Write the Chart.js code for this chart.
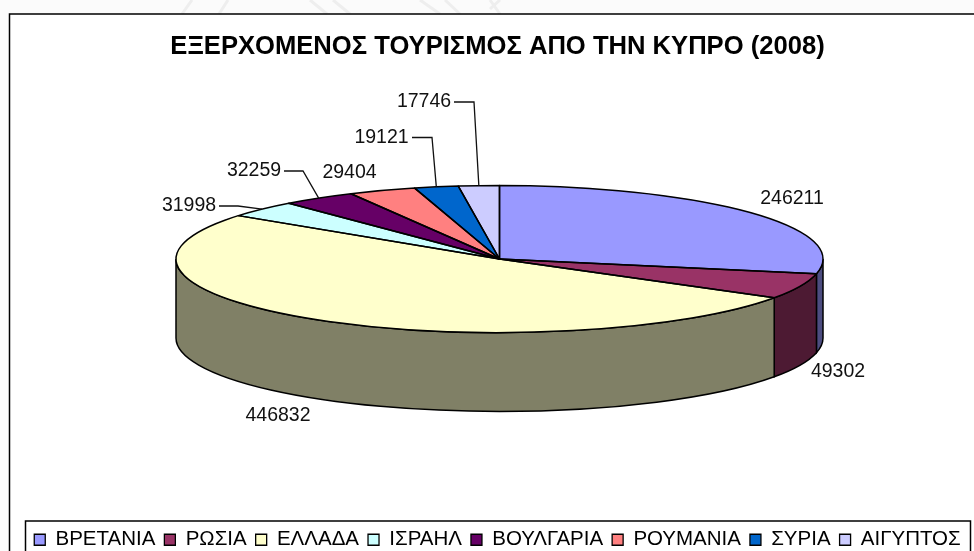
<!DOCTYPE html>
<html><head><meta charset="utf-8">
<style>html,body{margin:0;padding:0;background:#fbfbfb}canvas{display:block}</style>
<script src="https://cdn.jsdelivr.net/npm/chart.js@4"></script>
</head><body><div style="width:974px;height:551px;position:relative"><canvas id="c"></canvas></div>
<script>
const categories = ["ΒΡΕΤΑΝΙΑ","ΡΩΣΙΑ","ΕΛΛΑΔΑ","ΙΣΡΑΗΛ","ΒΟΥΛΓΑΡΙΑ","ΡΟΥΜΑΝΙΑ","ΣΥΡΙΑ","ΑΙΓΥΠΤΟΣ"];
const tourists = [246211,49302,446832,31998,32259,29404,19121,17746];
const topColors = ["#9999FF","#993366","#FFFFCC","#CCFFFF","#660066","#FF8080","#0066CC","#CCCCFF"];
const sideColors = ["#4D4D80","#4D1A33","#808066","#668080","#330033","#804040","#003366","#666680"];
const chartTitle = "ΕΞΕΡΧΟΜΕΝΟΣ ΤΟΥΡΙΣΜΟΣ ΑΠΟ ΤΗΝ ΚΥΠΡΟ (2008)";
// label anchors (centre x, middle y) and leader elbows
const labelAt = [[792,199],[838,372],[278,416],[189,206],[254,171],[349.5,173],[381.5,137.5],[424,102]];
const leaderElbow = [null,null,null,[[219,206],[238,206]],[[284,171],[303,171]],null,[[412,137.5],[432,137.5]],[[454,102],[474,102]]];
// faint background watermark strokes above the frame
const watermark = [[192,0,182,14],[228,0,219,14],[310,0,327,14],[333,0,350,14],[420,0,440,14],[445,0,460,14],[500,0,490,9],[490,0,500,14]];

const disc = {cx:499.5, cy:259, rx:323.5, ry:73.5, depth:79};
const INK = "#000";

function setDiscTransform(ctx, el){
  const p = el.getProps(['x','y','outerRadius'], true);
  ctx.translate(disc.cx, disc.cy);
  ctx.scale(disc.rx/p.outerRadius, disc.ry/p.outerRadius);
  ctx.translate(-p.x, -p.y);
}
const pie3d = {
  id:'pie3d',
  beforeDraw(chart){
    const {ctx,width,height} = chart;
    ctx.save();
    ctx.strokeStyle = "#eeeeee"; ctx.lineWidth = 3;
    watermark.forEach(w=>{ctx.beginPath();ctx.moveTo(w[0],w[1]);ctx.lineTo(w[2],w[3]);ctx.stroke();});
    ctx.fillStyle = "#fff";
    ctx.fillRect(9.5,14.5,width,height);
    ctx.strokeStyle = INK; ctx.lineWidth = 1.5;
    ctx.beginPath(); ctx.moveTo(9.5,height+2); ctx.lineTo(9.5,14); ctx.lineTo(width+2,14); ctx.stroke();
    ctx.restore();
  },
  beforeDatasetsDraw(chart){
    const ctx = chart.ctx, els = chart.getDatasetMeta(0).data;
    // extruded rim for the part of each slice that faces the viewer
    els.forEach((el,i)=>{
      const p = el.getProps(['x','y','startAngle','endAngle','outerRadius'], true);
      const tau = Math.PI*2;
      for (const shift of [-tau,0,tau]) {
        const a = Math.max(p.startAngle+shift,0), b = Math.min(p.endAngle+shift,Math.PI);
        if (b <= a) continue;
        ctx.save();
        ctx.beginPath();
        ctx.save(); setDiscTransform(ctx,el);
        ctx.arc(p.x,p.y,p.outerRadius,a,b); ctx.restore();
        ctx.save(); ctx.translate(0,disc.depth); setDiscTransform(ctx,el);
        ctx.arc(p.x,p.y,p.outerRadius,b,a,true); ctx.restore();
        ctx.closePath();
        ctx.fillStyle = sideColors[i]; ctx.fill();
        ctx.strokeStyle = INK; ctx.lineWidth = 1.5; ctx.stroke();
        ctx.restore();
      }
    });
  },
  beforeDatasetDraw(chart){
    const ctx = chart.ctx;
    ctx.save();
    setDiscTransform(ctx, chart.getDatasetMeta(0).data[0]);
  },
  afterDatasetDraw(chart){
    const ctx = chart.ctx;
    ctx.restore();
    chart.getDatasetMeta(0).data.forEach(el=>{
      const p = el.getProps(['x','y','startAngle','endAngle','outerRadius'], true);
      ctx.save();
      ctx.beginPath();
      ctx.save(); setDiscTransform(ctx,el);
      ctx.moveTo(p.x,p.y); ctx.arc(p.x,p.y,p.outerRadius,p.startAngle,p.endAngle); ctx.closePath();
      ctx.restore();
      ctx.strokeStyle = INK; ctx.lineWidth = 1.5; ctx.lineJoin='round'; ctx.stroke();
      ctx.restore();
    });
  },
  afterDatasetsDraw(chart){
    const ctx = chart.ctx, els = chart.getDatasetMeta(0).data;
    ctx.save();
    ctx.font = "19.5px 'Liberation Sans'";
    ctx.fillStyle = "#111"; ctx.textAlign="center"; ctx.textBaseline="middle";
    tourists.forEach((v,i)=>{
      ctx.fillText(String(v), labelAt[i][0], labelAt[i][1]);
      const elbow = leaderElbow[i];
      if (!elbow) return;
      const p = els[i].getProps(['startAngle','endAngle'], true), m = (p.startAngle+p.endAngle)/2;
      ctx.beginPath();
      ctx.moveTo(elbow[0][0],elbow[0][1]); ctx.lineTo(elbow[1][0],elbow[1][1]);
      ctx.lineTo(disc.cx+disc.rx*Math.cos(m), disc.cy+disc.ry*Math.sin(m));
      ctx.strokeStyle="#111"; ctx.lineWidth=1.3; ctx.stroke();
    });
    ctx.strokeStyle=INK; ctx.lineWidth=1.5;
    ctx.strokeRect(25.5,521,945,60);
    ctx.restore();
  }
};
new Chart(document.getElementById('c'),{
  type:'pie',
  data:{labels:categories,datasets:[{data:tourists,backgroundColor:topColors,borderWidth:0,clip:false}]},
  plugins:[pie3d],
  options:{
    responsive:true,maintainAspectRatio:false,animation:false,
    layout:{padding:{left:21,right:0,top:0,bottom:-9}},
    plugins:{
      tooltip:{enabled:false},
      title:{display:true,text:chartTitle,color:"#000",font:{family:"'Liberation Sans'",size:25.6,weight:'bold'},padding:{top:32,bottom:10}},
      legend:{position:'bottom',labels:{
        color:"#000",font:{family:"'Liberation Sans'",size:20.5},boxWidth:11,boxHeight:11,padding:9,
        generateLabels(chart){
          return Chart.overrides.pie.plugins.legend.labels.generateLabels(chart).map(l=>({...l,strokeStyle:"#000",lineWidth:1.3}));
        }
      }}
    }
  }
});
</script></body></html>
